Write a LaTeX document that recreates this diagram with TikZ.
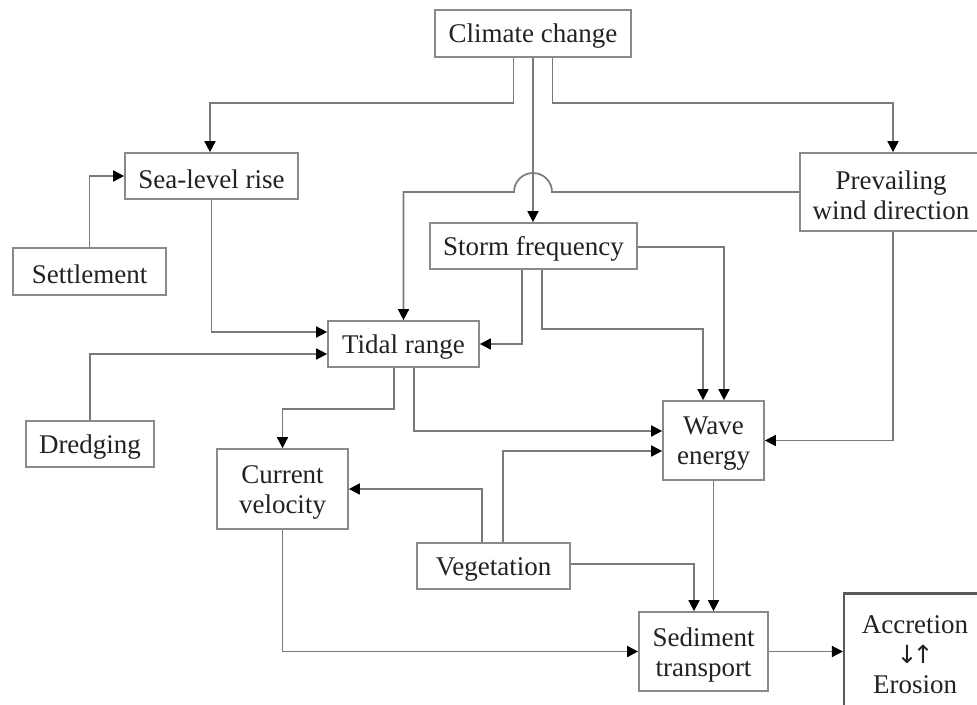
\documentclass[tikz,border=0pt]{standalone}
\usepackage{fontspec}
\setmainfont{Liberation Serif}
\newfontfamily\arrowfont{DejaVu Sans}
\usetikzlibrary{arrows.meta}
\definecolor{boxline}{HTML}{8A8A8A}
\definecolor{conline}{HTML}{7A7A7A}
\definecolor{txt}{HTML}{222222}
\begin{document}
\begin{tikzpicture}[x=1pt,y=-1pt,
  box/.style={draw=boxline,line width=1.7pt,fill=white,inner sep=0pt},
  lab/.style={text=txt,inner sep=0pt,align=center,yshift=-3pt,
    font=\fontsize{27}{30}\selectfont},
  con/.style={draw=conline,line width=1.7pt,
    -{Triangle[length=11pt,width=11pt,color=black,fill=black]}}]
\clip (0,0) rectangle (977,704);
\fill[white] (0,0) rectangle (977,704);
% nodes
\node[box,minimum width=196pt,minimum height=47pt,label={[lab]center:Climate change}] (cc) at (533,33.5) {};
\node[box,minimum width=173pt,minimum height=46pt,label={[lab]center:Sea-level rise}] (slr) at (211.5,176) {};
\node[box,minimum width=182pt,minimum height=78pt,label={[lab]center:{Prevailing\\wind direction}}] (pwd) at (891,192) {};
\node[box,minimum width=153pt,minimum height=47pt,label={[lab]center:Settlement}] (set) at (89.5,271.5) {};
\node[box,minimum width=207pt,minimum height=46pt,label={[lab]center:Storm frequency}] (sf) at (533.5,246) {};
\node[box,minimum width=151pt,minimum height=46pt,label={[lab]center:Tidal range}] (tr) at (403.5,344) {};
\node[box,minimum width=128pt,minimum height=46pt,label={[lab]center:Dredging}] (dr) at (90,444) {};
\node[box,minimum width=131pt,minimum height=80pt,label={[lab]center:{Current\\velocity}}] (cv) at (282.5,489) {};
\node[box,minimum width=101pt,minimum height=79pt,label={[lab]center:{Wave\\energy}}] (we) at (713.5,440.5) {};
\node[box,minimum width=153pt,minimum height=46pt,label={[lab]center:Vegetation}] (veg) at (493.5,566) {};
\node[box,minimum width=129pt,minimum height=79pt,label={[lab]center:{Sediment\\transport}}] (st) at (703.5,651.5) {};
\node[box,draw=black!65,line width=2.2pt,minimum width=142pt,minimum height=116pt,
  label={[lab]center:{Accretion\\{\arrowfont\fontsize{25}{30}\selectfont ↓\kern-5pt↑}\\Erosion}}] (ae) at (915,651.5) {};
% connectors
\draw[con] ([xshift=-19.5pt]cc.south) -- ++(0,45) -| ([xshift=-1.5pt]slr.north);
\draw[con] (cc.south) -- (cc.south |- sf.north);
\draw[con] ([xshift=19.5pt]cc.south) -- ++(0,45) -| ([xshift=2pt]pwd.north);
\draw[con] (pwd.west) -- ([xshift=19pt]cc.south |- pwd.west)
  arc[start angle=0,end angle=180,radius=19pt]
  -- (tr.north |- pwd.west) -- (tr.north);
\draw[con] (set.north) |- (slr.west);
\draw[con] (slr.south) |- ([yshift=12pt]tr.west);
\draw[con] (dr.north) |- ([yshift=-10pt]tr.west);
\draw[con] ([xshift=-11.5pt]sf.south) |- (tr.east);
\draw[con] ([xshift=8.5pt]sf.south) -- ++(0,59) -| ([xshift=-10.5pt]we.north);
\draw[con] ([yshift=-1pt]sf.east) -| ([xshift=10.5pt]we.north);
\draw[con] ([xshift=-9.5pt]tr.south) -- ++(0,41) -| (cv.north);
\draw[con] ([xshift=10.5pt]tr.south) |- ([yshift=9.5pt]we.west);
\draw[con] ([xshift=2pt]pwd.south) |- (we.east);
\draw[con] ([xshift=-11.5pt]veg.north) |- (cv.east);
\draw[con] ([xshift=9.5pt]veg.north) |- ([yshift=-10.5pt]we.west);
\draw[con] ([yshift=2pt]veg.east) -| ([xshift=-9.5pt]st.north);
\draw[con] (we.south) -- (we.south |- st.north);
\draw[con] (cv.south) |- (st.west);
\draw[con] (st.east) -- (ae.west);
\end{tikzpicture}
\end{document}
